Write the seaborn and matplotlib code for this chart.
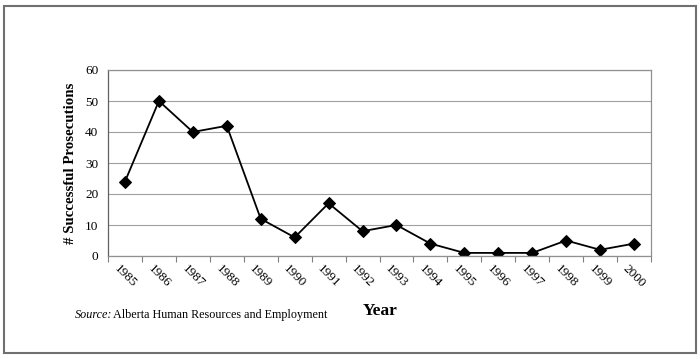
import numpy as np
import pandas as pd
import matplotlib.pyplot as plt
import seaborn as sns
from matplotlib.patches import Rectangle

# chart values
years = [str(y) for y in range(1985, 2001)]
prosecutions = [24, 50, 40, 42, 12, 6, 17, 8, 10, 4, 1, 1, 1, 5, 2, 4]

df = pd.DataFrame({'pos': np.arange(len(years)), 'count': prosecutions})

sns.set_style('white')
plt.rcParams['font.family'] = ['Liberation Serif', 'DejaVu Serif']
plt.rcParams['text.color'] = 'black'
plt.rcParams['xtick.color'] = 'black'
plt.rcParams['ytick.color'] = 'black'

fig = plt.figure(figsize=(7, 3.59), dpi=100)
ax = fig.add_axes([108 / 700, 1 - 256 / 359, (651 - 108) / 700, (256 - 70) / 359])

sns.lineplot(data=df, x='pos', y='count', ax=ax, color='black', marker='D',
             markersize=6, linewidth=1.3, markeredgecolor='black')

ax.set_xlim(-0.5, len(years) - 0.5)
ax.set_ylim(0, 60)
ax.set_yticks(range(0, 61, 10))
ax.grid(axis='y', color='#a0a0a0', linewidth=0.8)
ax.set_axisbelow(True)

# category labels at centres, ticks at boundaries
ax.set_xticks(df['pos'])
ax.set_xticklabels(years, rotation=-45, ha='center', va='top', fontsize=9.5)
ax.set_xticks(np.arange(-0.5, len(years)), minor=True)
ax.tick_params(axis='x', which='major', length=0, pad=5)
ax.tick_params(axis='x', which='minor', length=4, color='#808080', width=0.8, bottom=True)
ax.tick_params(axis='y', labelsize=9.5, length=0, pad=7)

for side in ['top', 'right', 'bottom']:
    ax.spines[side].set_color('#909090')
    ax.spines[side].set_linewidth(0.9)
ax.spines['left'].set_color('#606060')
ax.spines['left'].set_linewidth(0.9)

ax.set_xlabel('')
ax.set_ylabel('# Successful Prosecutions', fontsize=10.7, fontweight='bold', labelpad=6,
              color='black')

fig.text(380 / 700, 1 - 311 / 359, 'Year', fontsize=12.5, fontweight='bold',
         ha='center', va='center')
fig.text(75 / 700, 1 - 315 / 359, 'Source:', fontsize=8.7, style='italic',
         ha='left', va='center')
fig.text(113 / 700, 1 - 315 / 359, 'Alberta Human Resources and Employment',
         fontsize=8.7, ha='left', va='center')

fig.patches.append(Rectangle((4 / 700, 1 - 353 / 359), 692 / 700, 347 / 359,
                             transform=fig.transFigure, fill=False,
                             edgecolor='#707070', linewidth=1.5))

fig.savefig('out.png', dpi=100)
